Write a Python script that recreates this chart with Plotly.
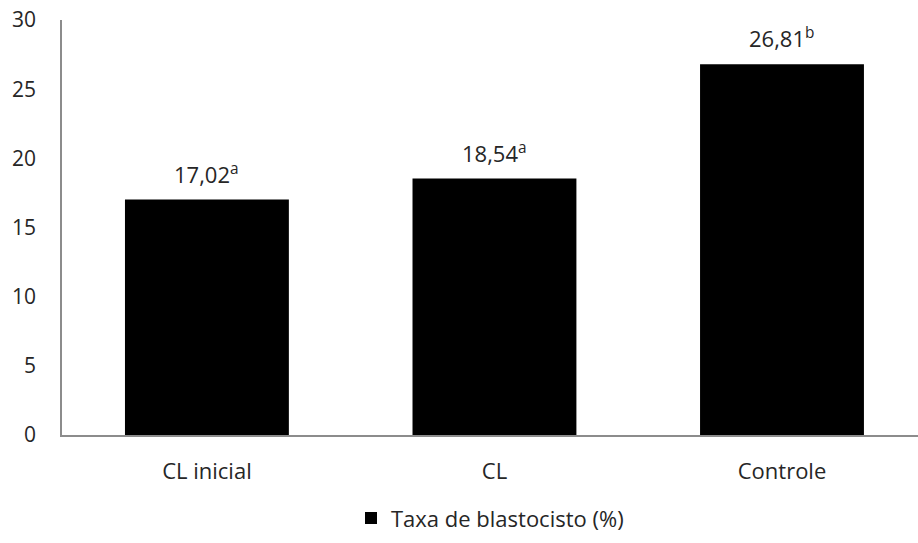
import plotly.graph_objects as go

categories = ["CL inicial", "CL", "Controle"]
values = [17.02, 18.54, 26.81]
letters = ["a", "a", "b"]
series_name = "Taxa de blastocisto (%)"
y_ticks = [0, 5, 10, 15, 20, 25, 30]

FONT = "Open Sans, Liberation Sans, sans-serif"
TXT = "#262626"
x_pos = list(range(len(categories)))

fig = go.Figure()
fig.add_trace(go.Bar(
    x=x_pos, y=values, name=series_name,
    marker=dict(color="black", line=dict(width=0)),
    width=0.57, showlegend=True,
))

for xp, v, l in zip(x_pos, values, letters):
    label = f"{v:.2f}".replace(".", ",") + f"<sup>{l}</sup>"
    fig.add_annotation(x=xp, y=v, text=label, showarrow=False,
                       yanchor="bottom", yshift=9,
                       font=dict(family=FONT, size=22, color=TXT))

fig.update_layout(
    width=918, height=543,
    paper_bgcolor="white", plot_bgcolor="white",
    margin=dict(l=62, r=0, t=20, b=108),
    font=dict(family=FONT, size=21, color=TXT),
    showlegend=True,
    legend=dict(orientation="h", x=0.5, xanchor="center", y=-0.15, yanchor="top",
                font=dict(family=FONT, size=22, color=TXT)),
)
fig.update_xaxes(
    tickmode="array", tickvals=x_pos, ticktext=categories,
    range=[-0.504, 2.473], showline=True, linecolor="#8c8c8c", linewidth=1.5,
    ticks="outside", ticklen=16, tickcolor="rgba(0,0,0,0)",
    tickfont=dict(size=22),
    showgrid=False, zeroline=False,
)
fig.update_yaxes(
    range=[0, 30], tickvals=y_ticks, showline=True, linecolor="#8c8c8c", linewidth=1.5,
    ticks="outside", ticklen=20, tickcolor="rgba(0,0,0,0)",
    showgrid=False, zeroline=False,
)

fig.write_html("out.html")
